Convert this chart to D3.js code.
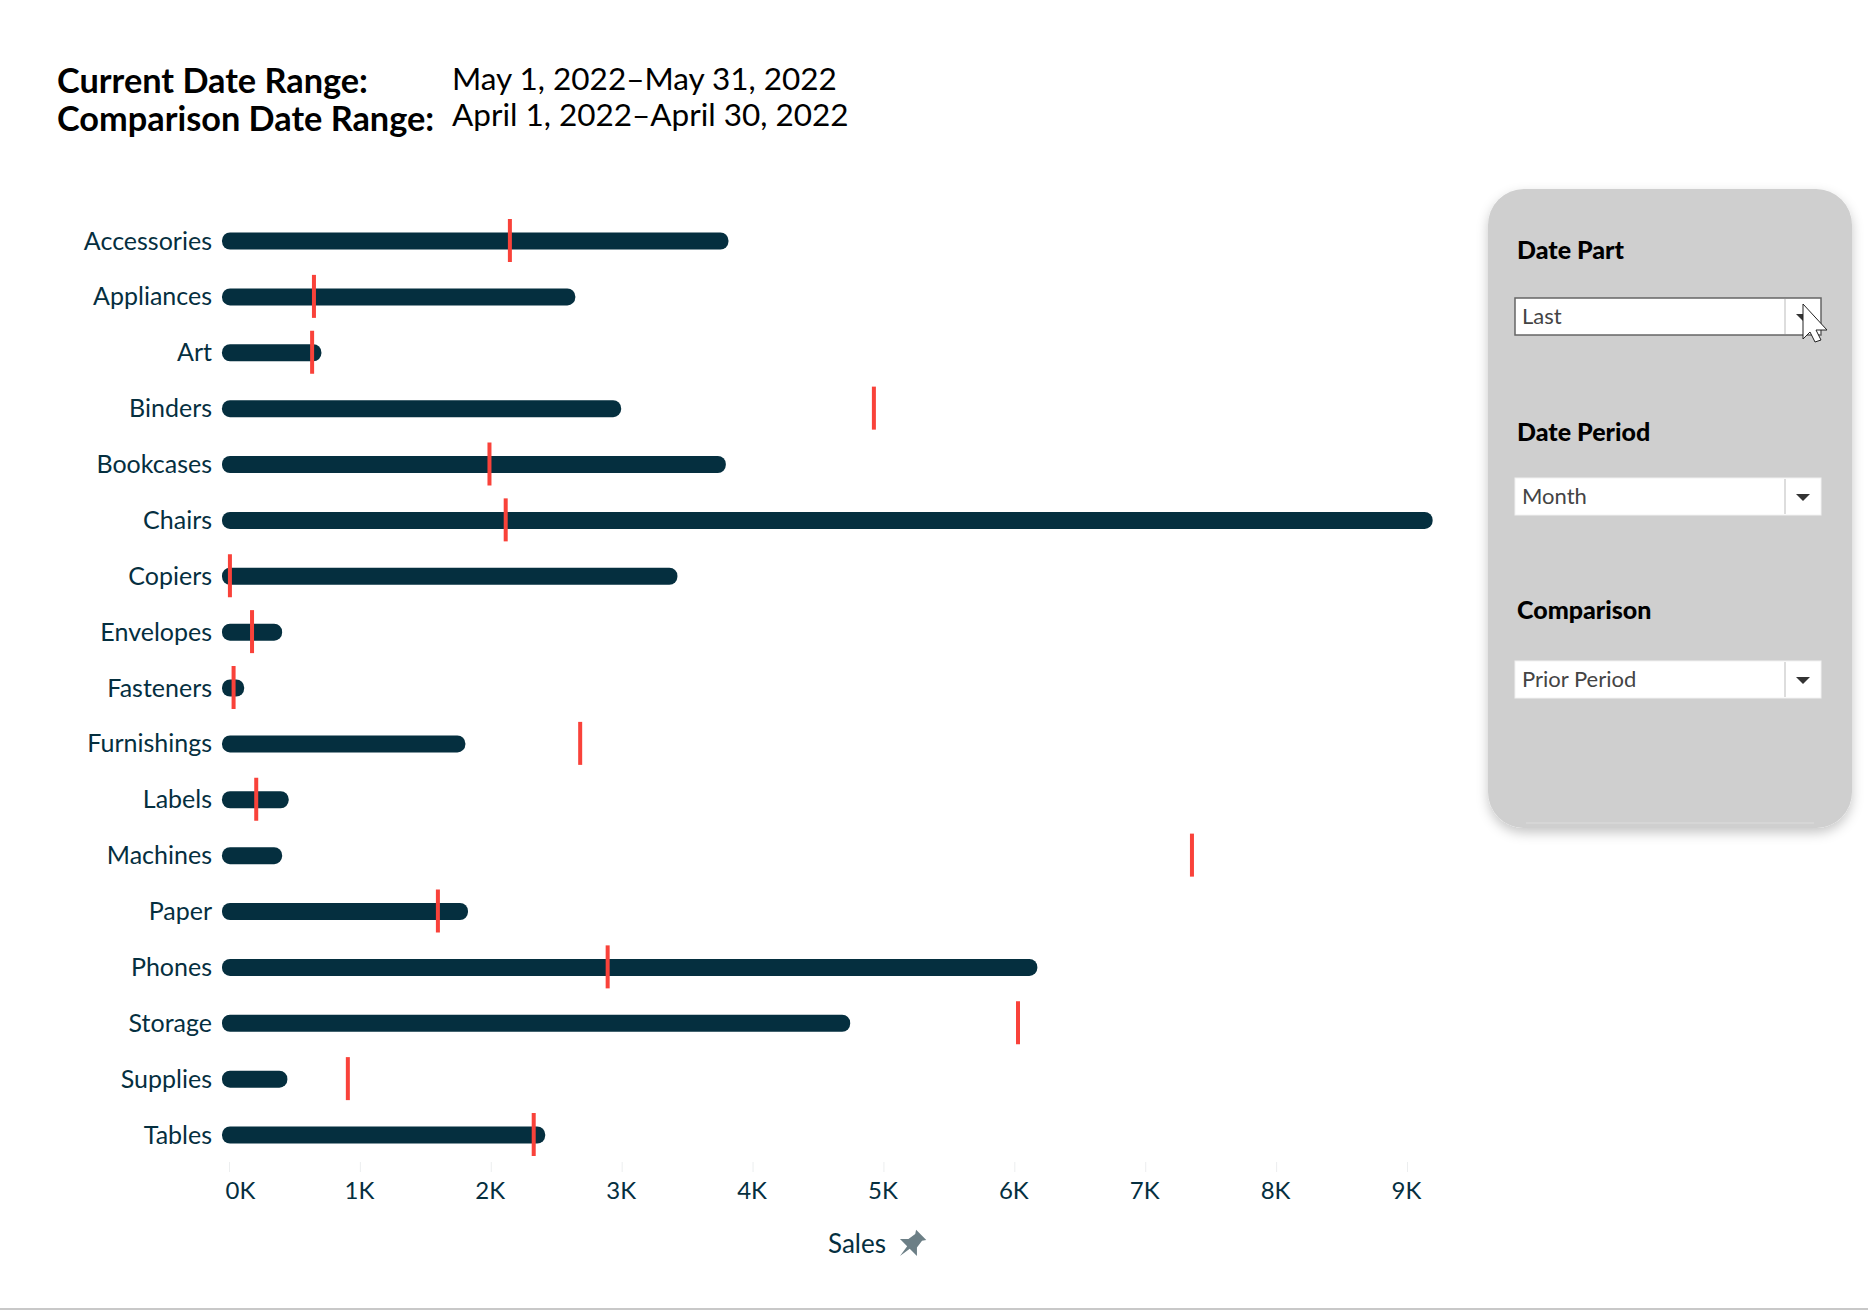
<!DOCTYPE html>
<html>
<head>
<meta charset="utf-8">
<script src="https://cdn.jsdelivr.net/npm/d3@7"></script>
<style>
  body { margin: 0; background: #fff; font-family: Lato, sans-serif; }
  svg { display: block; }
</style>
</head>
<body>
<div id="root"></div>
<script>
// values, sales in thousands
const categories = ['Accessories', 'Appliances', 'Art', 'Binders', 'Bookcases', 'Chairs', 'Copiers', 'Envelopes', 'Fasteners', 'Furnishings', 'Labels', 'Machines', 'Paper', 'Phones', 'Storage', 'Supplies', 'Tables'];
const currentSales = [3.77, 2.60, 0.66, 2.95, 3.75, 9.15, 3.38, 0.36, 0.07, 1.76, 0.41, 0.36, 1.78, 6.13, 4.70, 0.40, 2.37];
const comparisonSales = [2.146, 0.649, 0.635, 4.927, 1.99, 2.114, 0.007, 0.176, 0.035, 2.683, 0.208, 7.357, 1.596, 2.893, 6.028, 0.908, 2.328];
const tickValues = [0, 1, 2, 3, 4, 5, 6, 7, 8, 9];
const headerLabels = ['Current Date Range:', 'Comparison Date Range:'];
const headerRanges = ['May 1, 2022\u2013May 31, 2022', 'April 1, 2022\u2013April 30, 2022'];
const filterLabels = ['Date Part', 'Date Period', 'Comparison'];
const filterValues = ['Last', 'Month', 'Prior Period'];

const width = 1868;
const height = 1310;
const dark = '#052f3f';

const svg = d3.select('#root').append('svg').attr('width', width).attr('height', height);

const defs = svg.append('defs');
defs.append('filter').attr('id', 'shadow')
  .attr('x', '-10%').attr('y', '-10%').attr('width', '120%').attr('height', '120%')
  .append('feDropShadow')
  .attr('dx', 0).attr('dy', 5).attr('stdDeviation', 6)
  .attr('flood-color', '#000').attr('flood-opacity', 0.22);

// header
[82, 120].forEach((y, i) => {
  svg.append('text').attr('x', 57).attr('y', y + 11)
    .attr('font-size', 34.3).attr('font-weight', 700).attr('fill', '#000')
    .text(headerLabels[i]);
});
[79, 115].forEach((y, i) => {
  svg.append('text').attr('x', 452).attr('y', y + 11)
    .attr('font-size', 31.5).attr('fill', '#000')
    .text(headerRanges[i]);
});

const xScale = d3.scaleLinear().domain([0, 9]).range([229, 1407]);
const yScale = d3.scalePoint().domain(categories).range([241, 1135]);

// x axis
const xAxis = svg.append('g')
  .attr('transform', 'translate(0, 1162)')
  .call(d3.axisBottom(xScale).tickValues(tickValues).tickFormat(d => `${d}K`).tickSize(10).tickPadding(10));
xAxis.select('.domain').remove();
xAxis.selectAll('line').attr('stroke', '#eceeef');
xAxis.selectAll('text')
  .attr('font-family', 'Lato, sans-serif').attr('font-size', 24).attr('fill', dark)
  .attr('text-anchor', d => (d === 0 ? 'start' : 'middle'))
  .attr('dx', d => (d === 0 ? -4 : -1));

svg.append('text').attr('x', 828).attr('y', 1253)
  .attr('font-size', 26).attr('fill', dark).text('Sales');
// pin icon next to the axis title
svg.append('path')
  .attr('transform', 'translate(911, 1245) rotate(45) scale(1.2)')
  .attr('d', 'M-6,-12 L6,-12 L4,-9 L5,-2 L10,3 L1.5,3 L0,13 L-1.5,3 L-10,3 L-5,-2 L-4,-9 Z')
  .attr('fill', '#6c7f86');

// y axis
const yAxis = svg.append('g')
  .attr('transform', 'translate(212, 0)')
  .call(d3.axisLeft(yScale).tickSize(0).tickPadding(0));
yAxis.select('.domain').remove();
yAxis.selectAll('text')
  .attr('font-family', 'Lato, sans-serif').attr('font-size', 25).attr('fill', dark);

// bars
svg.selectAll('rect.bar')
  .data(currentSales)
  .enter()
  .append('rect')
  .attr('class', 'bar')
  .attr('x', xScale(0) - 7)
  .attr('y', (d, i) => yScale(categories[i]) - 8.5)
  .attr('width', d => xScale(d) - xScale(0) + 13)
  .attr('height', 17)
  .attr('rx', 8)
  .attr('fill', dark);

// comparison markers
svg.selectAll('rect.marker')
  .data(comparisonSales)
  .enter()
  .append('rect')
  .attr('class', 'marker')
  .attr('x', d => xScale(d) - 2)
  .attr('y', (d, i) => yScale(categories[i]) - 22)
  .attr('width', 4)
  .attr('height', 43)
  .attr('fill', '#f9423a');

// filter panel
const panel = svg.append('g');
panel.append('rect')
  .attr('x', 1488).attr('y', 189).attr('width', 364).attr('height', 639).attr('rx', 36)
  .attr('fill', '#cfcfcf').attr('filter', 'url(#shadow)');
panel.append('line')
  .attr('x1', 1526).attr('x2', 1814).attr('y1', 823).attr('y2', 823)
  .attr('stroke', '#d8d8d8').attr('stroke-width', 1.5);

const filterLabelY = [250, 432, 610];
const filterBoxY = [298, 478, 661];

filterLabels.forEach((label, i) => {
  panel.append('text').attr('x', 1517).attr('y', filterLabelY[i] + 9)
    .attr('font-size', 25).attr('font-weight', 900).attr('fill', '#000').text(label);

  panel.append('rect')
    .attr('x', 1515).attr('y', filterBoxY[i]).attr('width', 306).attr('height', 37)
    .attr('fill', '#fff')
    .attr('stroke', i === 0 ? '#666' : '#f2f2f2').attr('stroke-width', i === 0 ? 1.5 : 1);
  panel.append('line')
    .attr('x1', 1785).attr('x2', 1785)
    .attr('y1', filterBoxY[i] + 1).attr('y2', filterBoxY[i] + 36)
    .attr('stroke', '#ddd').attr('stroke-width', 2);
  panel.append('path')
    .attr('d', `M1796,${filterBoxY[i] + 16} h14 l-7,7 Z`)
    .attr('fill', '#333');
  panel.append('text').attr('x', 1522).attr('y', filterBoxY[i] + 26)
    .attr('font-size', 22).attr('fill', '#444').text(filterValues[i]);
});

// mouse pointer over the first dropdown
panel.append('path')
  .attr('d', 'M1803,304 L1827,330 L1816,330 L1821,340 L1815,342 L1810,332 L1803,339 Z')
  .attr('fill', '#fff').attr('stroke', '#222').attr('stroke-width', 1);

// bottom rule
svg.append('line')
  .attr('x1', 0).attr('x2', width).attr('y1', 1309).attr('y2', 1309)
  .attr('stroke', '#c8c8c8').attr('stroke-width', 2);
</script>
</body>
</html>
